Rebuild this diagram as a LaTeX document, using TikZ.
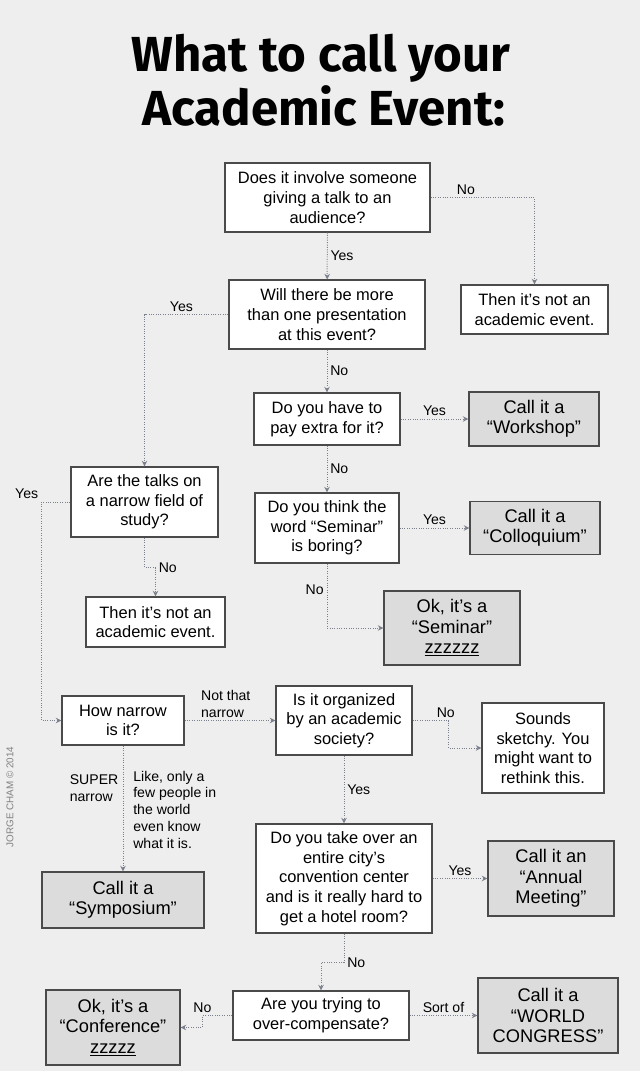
\documentclass[tikz,border=0pt]{standalone}
\usepackage{fontspec}
\setmainfont{Liberation Sans}
\newfontfamily\titlefont{Fira Sans}
\usetikzlibrary{arrows.meta}
\definecolor{paper}{HTML}{EEEEEE}
\definecolor{answer}{HTML}{DCDCDC}
\definecolor{rim}{HTML}{4A4A4A}
\definecolor{wire}{HTML}{7C808C}

\begin{document}
\begin{tikzpicture}[x=0.025cm, y=-0.025cm,
  qbox/.style={draw=rim, line width=0.8pt, fill=white, align=center, inner sep=0pt,
    font=\fontsize{11.7}{14}\selectfont},
  abox/.style={qbox, fill=answer, font=\fontsize{13}{14.5}\selectfont},
  flow/.style={draw=wire, densely dotted, line width=0.7pt, -{Stealth[length=4pt,width=4pt]}},
  lbl/.style={font=\fontsize{10}{12}\selectfont, inner sep=2pt}]
  \fill[paper] (0,0) rectangle (640,1071);

  % title
  \node[anchor=base, font=\titlefont\bfseries\fontsize{35}{40}\selectfont] (title1) at (321,72) {What to call your};
  \node[anchor=base, font=\titlefont\bfseries\fontsize{35}{40}\selectfont] (title2) at (324,125) {Academic Event:};
  \node[rotate=90, text=gray, font=\fontsize{7}{8}\selectfont] (credit) at (10,797) {JORGE CHAM \textcopyright\ 2014};

  % questions and answers
  \node[qbox, minimum width=5.125cm, minimum height=1.725cm] (talk) at (327.5,197.5) {Does it involve someone\\giving a talk to an\\audience?};
  \node[qbox, minimum width=4.9cm, minimum height=1.725cm] (many) at (327,314.5) {Will there be more\\than one presentation\\at this event?};
  \node[qbox, minimum width=3.675cm, minimum height=1.225cm] (notev1) at (534.5,309.5) {Then it's not an\\academic event.};
  \node[qbox, minimum width=3.65cm, minimum height=1.3cm] (pay) at (327,419) {Do you have to\\pay extra for it?};
  \node[abox, minimum width=3.25cm, minimum height=1.35cm] (workshop) at (534,419) {Call it a\\``Workshop''};
  \node[qbox, minimum width=3.675cm, minimum height=1.75cm] (field) at (144.5,502) {Are the talks on\\a narrow field of\\study?};
  \node[qbox, minimum width=3.6cm, minimum height=1.75cm] (boring) at (327,528) {Do you think the\\word ``Seminar''\\is boring?};
  \node[abox, minimum width=3.25cm, minimum height=1.325cm] (colloq) at (535,528) {Call it a\\``Colloquium''};
  \node[qbox, minimum width=3.475cm, minimum height=1.25cm] (notev2) at (155.5,622) {Then it's not an\\academic event.};
  \node[abox, minimum width=3.4cm, minimum height=1.85cm] (seminar) at (452,628) {Ok, it's a\\``Seminar''\\\underline{zzzzzz}};
  \node[qbox, minimum width=3.05cm, minimum height=1.225cm] (narrow) at (123,720.5) {How narrow\\is it?};
  \node[qbox, minimum width=3.4cm, minimum height=1.725cm] (society) at (344,720.5) {Is it organized\\by an academic\\society?};
  \node[qbox, minimum width=3.05cm, minimum height=2.25cm] (sketchy) at (543,748) {Sounds\\sketchy. You\\might want to\\rethink this.};
  \node[abox, minimum width=4.05cm, minimum height=1.4cm] (symp) at (123,900) {Call it a\\``Symposium''};
  \node[qbox, minimum width=4.4cm, minimum height=2.725cm] (city) at (344,878.5) {Do you take over an\\entire city's\\convention center\\and is it really hard to\\get a hotel room?};
  \node[abox, minimum width=3.15cm, minimum height=1.875cm] (annual) at (551,878.5) {Call it an\\``Annual\\Meeting''};
  \node[qbox, minimum width=4.4cm, minimum height=1.225cm] (overc) at (321,1015.5) {Are you trying to\\over-compensate?};
  \node[abox, minimum width=3.35cm, minimum height=1.875cm] (conf) at (113,1027.5) {Ok, it's a\\``Conference''\\\underline{zzzzz}};
  \node[abox, minimum width=3.5cm, minimum height=1.875cm] (congress) at (548,1015.5) {Call it a\\``WORLD\\CONGRESS''};

  % connectors
  \draw[flow] (talk) -- node[lbl, right] {Yes} (many);
  \draw[flow] (talk.east) -| node[lbl, above, pos=0.17] {No} (notev1);
  \draw[flow] (many.west) -| node[lbl, above, pos=0.28] {Yes} (field);
  \draw[flow] (many) -- node[lbl, right] {No} (pay);
  \draw[flow] (pay) -- node[lbl, above] {Yes} (workshop);
  \draw[flow] (pay) -- node[lbl, right] {No} (boring);
  \draw[flow] (boring) -- node[lbl, above] {Yes} (colloq);
  \draw[flow] (boring) |- node[lbl, left, pos=0.2] {No} (seminar);
  \draw[flow] (field.west) -- ++(-29,0) node[lbl, above left] {Yes} |- (narrow);
  \draw[flow] (field.south) -- ++(0,30) -| node[lbl, right, pos=0.5] {No} (notev2);
  \draw[flow] (narrow) -- node[lbl, above, align=left, xshift=-3pt] {Not that\\narrow} (society);
  \draw[flow] (society.east) -- ++(36,0) node[lbl, above, xshift=-2pt] {No} |- (sketchy);
  \draw[flow] (society) -- node[lbl, right] {Yes} (city);
  \draw[flow] (narrow) -- node[lbl, left, pos=0.34, align=left, xshift=-1pt] {SUPER\\narrow}
    node[lbl, right, pos=0.51, align=left, xshift=5pt] {Like, only a\\few people in\\the world\\even know\\what it is.} (symp);
  \draw[flow] (city) -- node[lbl, above] {Yes} (annual);
  \draw[flow] (city.south) -- ++(0,29) node[lbl, right] {No} -| (overc);
  \draw[flow] (overc.west) -- ++(-30,0) node[lbl, above] {No} |- (conf);
  \draw[flow] (overc) -- node[lbl, above] {Sort of} (congress);
\end{tikzpicture}
\end{document}
